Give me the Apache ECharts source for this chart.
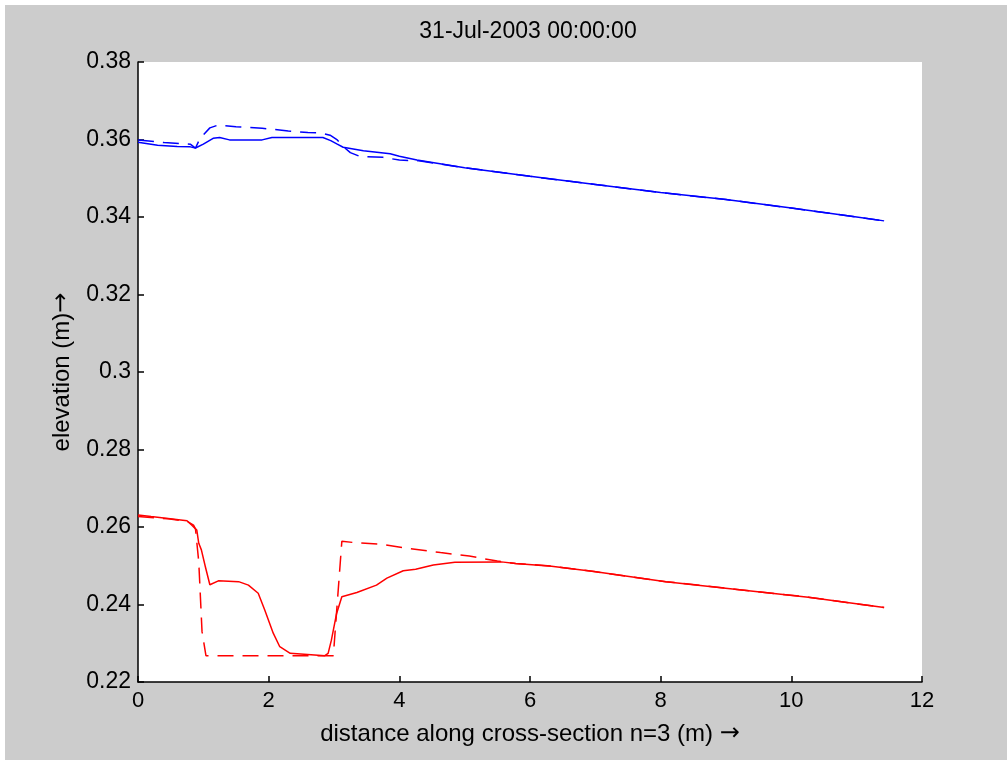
<!DOCTYPE html>
<html>
<head>
<meta charset="utf-8">
<script src="https://cdn.jsdelivr.net/npm/echarts@6/dist/echarts.min.js"></script>
<style>
html,body{margin:0;padding:0;background:#ffffff;width:1007px;height:760px;overflow:hidden;}
#chart{position:absolute;left:5px;top:5px;width:1002px;height:755px;}
</style>
</head>
<body>
<div id="chart"></div>
<script>
// ---- data ----
const titleText = '31-Jul-2003 00:00:00';
const xLabel = 'distance along cross-section n=3 (m) {a|\u2192}';
const yLabel = 'elevation (m){a|\u2192}';

const blueSolidX = [0, 0.3, 0.6, 0.8, 0.88, 1.0, 1.15, 1.25, 1.4, 1.9, 2.05, 2.5, 2.83, 2.95, 3.05, 3.14, 3.45, 3.86, 4.0, 4.27, 5.0, 6.0, 7.0, 8.0, 9.0, 10.0, 11.0, 11.42];
const blueSolidY = [0.3593, 0.3585, 0.3582, 0.3581, 0.3578, 0.3588, 0.3603, 0.3605, 0.3599, 0.3599, 0.3605, 0.3605, 0.3605, 0.3597, 0.3588, 0.3580, 0.3571, 0.3563, 0.3557, 0.3547, 0.3527, 0.3505, 0.3484, 0.3463, 0.3445, 0.3423, 0.3400, 0.3390];

const blueDashX = [0, 0.4, 0.8, 0.88, 0.95, 1.1, 1.22, 1.5, 1.9, 2.3, 2.6, 2.8, 2.94, 3.05, 3.14, 3.25, 3.4, 3.75, 4.0, 4.3, 5.0, 6.0, 7.0, 8.0, 9.0, 10.0, 11.0, 11.42];
const blueDashY = [0.3599, 0.3592, 0.3588, 0.3578, 0.3603, 0.3630, 0.3637, 0.3633, 0.3629, 0.3622, 0.3618, 0.3617, 0.3611, 0.3599, 0.3582, 0.3566, 0.3556, 0.3554, 0.3547, 0.3545, 0.3527, 0.3505, 0.3484, 0.3463, 0.3445, 0.3423, 0.3400, 0.3390];

const redSolidX = [0, 0.2, 0.46, 0.75, 0.82, 0.9, 0.93, 0.97, 1.03, 1.1, 1.23, 1.54, 1.69, 1.84, 1.94, 2.07, 2.17, 2.33, 2.86, 2.91, 2.96, 3.04, 3.12, 3.35, 3.65, 3.81, 4.06, 4.25, 4.52, 4.85, 5.56, 5.78, 6.33, 6.98, 8.08, 9.17, 10.26, 11.42];
const redSolidY = [0.2631, 0.2627, 0.2622, 0.2616, 0.2605, 0.2592, 0.2558, 0.2541, 0.2498, 0.2451, 0.2461, 0.2459, 0.2450, 0.2429, 0.2386, 0.2326, 0.2291, 0.2274, 0.2268, 0.2274, 0.2308, 0.2377, 0.2420, 0.2431, 0.2450, 0.2468, 0.2487, 0.2491, 0.2502, 0.2509, 0.2510, 0.2506, 0.2499, 0.2485, 0.2459, 0.2439, 0.2419, 0.2392];

const redDashX = [0, 0.46, 0.75, 0.85, 0.88, 0.93, 0.98, 1.04, 1.5, 2.0, 2.5, 2.99, 3.12, 3.3, 3.7, 4.11, 4.63, 5.07, 5.5, 5.78, 6.33, 6.98, 8.08, 9.17, 10.26, 11.42];
const redDashY = [0.2627, 0.2621, 0.2615, 0.2605, 0.2595, 0.2510, 0.2330, 0.2268, 0.2268, 0.2268, 0.2268, 0.2268, 0.2563, 0.2560, 0.2556, 0.2545, 0.2534, 0.2525, 0.2512, 0.2506, 0.2499, 0.2485, 0.2459, 0.2439, 0.2419, 0.2392];

const xMin = 0, xMax = 12, xStep = 2;
const yMin = 0.22, yMax = 0.38, yStep = 0.02;

function pairs(xs, ys) { return xs.map((x, i) => [x, ys[i]]); }

const FONT = 'Liberation Sans, Arial, sans-serif';
const chart = echarts.init(document.getElementById('chart'), null, {renderer: 'canvas'});

function lineSeries(name, xs, ys, color, dashed) {
  return {
    name: name,
    type: 'line',
    data: pairs(xs, ys),
    showSymbol: false,
    symbol: 'none',
    smooth: false,
    animation: false,
    lineStyle: { color: color, width: 1.5, type: dashed ? [16, 9] : 'solid' },
    z: 3
  };
}

const arrowRich = { a: { fontFamily: 'DejaVu Sans', fontSize: 24, color: '#000' } };

chart.setOption({
  backgroundColor: '#cccccc',
  animation: false,
  graphic: [{
    type: 'text',
    x: 523, y: 27,
    style: {
      text: titleText, fill: '#000',
      font: '23px Liberation Sans, Arial, sans-serif',
      textAlign: 'center', textVerticalAlign: 'middle'
    }
  }],
  grid: {
    left: 133, top: 57, right: 85, bottom: 78,
    show: true, backgroundColor: '#ffffff', borderWidth: 0
  },
  xAxis: {
    type: 'value', min: xMin, max: xMax, interval: xStep,
    name: xLabel, nameLocation: 'middle', nameGap: 40,
    nameTextStyle: { fontFamily: FONT, fontSize: 24, color: '#000', rich: arrowRich },
    axisLine: { show: true, onZero: false, lineStyle: { color: '#000', width: 1.5 } },
    axisTick: { show: true, inside: true, length: 6, lineStyle: { color: '#000', width: 1.5 } },
    axisLabel: { fontFamily: FONT, fontSize: 22, color: '#000', margin: 8 },
    splitLine: { show: false }
  },
  yAxis: {
    type: 'value', min: yMin, max: yMax, interval: yStep,
    name: yLabel, nameLocation: 'middle', nameGap: 64, nameRotate: 90,
    nameTextStyle: { fontFamily: FONT, fontSize: 24, color: '#000', rich: arrowRich },
    axisLine: { show: true, onZero: false, lineStyle: { color: '#000', width: 1.5 } },
    axisTick: { show: true, inside: true, length: 6, lineStyle: { color: '#000', width: 1.5 } },
    axisLabel: { fontFamily: FONT, fontSize: 23, color: '#000', margin: 7,
      formatter: v => String(+v.toFixed(2)) },
    splitLine: { show: false }
  },
  series: [
    lineSeries('blue solid', blueSolidX, blueSolidY, '#0000ff', false),
    lineSeries('blue dashed', blueDashX, blueDashY, '#0000ff', true),
    lineSeries('red solid', redSolidX, redSolidY, '#ff0000', false),
    lineSeries('red dashed', redDashX, redDashY, '#ff0000', true)
  ]
});
</script>
</body>
</html>
